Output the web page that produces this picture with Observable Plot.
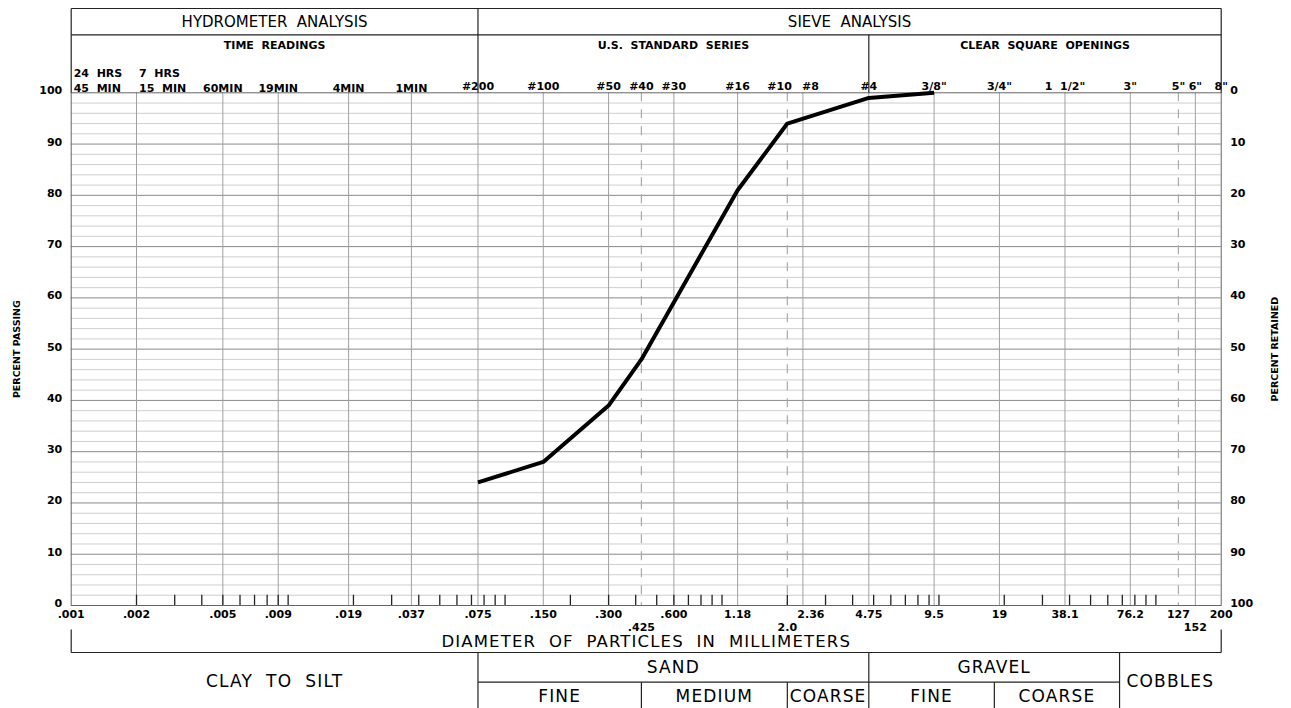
<!DOCTYPE html>
<html><head><meta charset="utf-8">
<script src="https://cdn.jsdelivr.net/npm/d3@7"></script>
<script src="https://cdn.jsdelivr.net/npm/@observablehq/plot@0.6"></script>
<style>
html,body{margin:0;padding:0;background:#fff;}
svg text{white-space:pre;}
g[font-size="17"], g[font-size="16.5"]{letter-spacing:1.15px;}
</style></head><body><div id="chart"></div>
<script>
// ---- Gradation results (sieve size in mm, percent passing) ----
const sieveSizes = [0.075, 0.150, 0.300, 0.425, 1.18, 2.0, 4.75, 9.5];
const percentPassing = [24, 28, 39, 48, 81, 94, 99, 100];

// ---- Grid sizes (mm) ----
const gridSizes = [0.002, 0.005, 0.009, 0.019, 0.037, 0.075, 0.150, 0.300, 0.600, 1.18, 2.36, 4.75, 9.5, 19, 38.1, 76.2, 152];
const dashedSizes = [0.425, 2.0, 127];

// ---- Top labels: U.S. standard sieve numbers / clear square openings ----
const sieveTickSizes = [0.075, 0.150, 0.300, 0.425, 0.600, 1.18, 4.75, 9.5, 19, 38.1, 76.2, 127, 152, 200];
const sieveTickLabels = ["#200", "#100", "#50", "#40", "#30", "#16", "#4", "3/8\"", "3/4\"", "1  1/2\"", "3\"", "5\"", "6\"", "8\""];
const sieveLeftSizes = [2.0];
const sieveLeftLabels = ["#10"];
const sieveRightSizes = [2.36];
const sieveRightLabels = ["#8"];

// ---- Hydrometer time readings ----
const timeUpperSizes = [0.001, 0.002];
const timeUpperLabels = ["24  HRS", "7  HRS"];
const timeLowerSizes = [0.001, 0.002];
const timeLowerLabels = ["45  MIN", "15  MIN"];
const timeSizes = [0.005, 0.009, 0.019, 0.037];
const timeLabels = ["60MIN", "19MIN", "4MIN", "1MIN"];

// ---- Bottom labels: diameter in mm ----
const mmTickSizes = [0.001, 0.002, 0.005, 0.009, 0.019, 0.037, 0.075, 0.150, 0.300, 0.600, 1.18, 4.75, 9.5, 19, 38.1, 76.2, 127, 200];
const mmTickLabels = [".001", ".002", ".005", ".009", ".019", ".037", ".075", ".150", ".300", ".600", "1.18", "4.75", "9.5", "19", "38.1", "76.2", "127", "200"];
const mmShiftedSizes = [2.36];
const mmShiftedLabels = ["2.36"];
const mmLowerSizes = [0.425, 2.0, 152];
const mmLowerLabels = [".425", "2.0", "152"];

// ---- Header / classification sections (mm bounds) ----
const analysisHeaders = [
  {label: "HYDROMETER  ANALYSIS", from: 0.001, to: 0.075},
  {label: "SIEVE  ANALYSIS", from: 0.075, to: 200}
];
const seriesHeaders = [
  {label: "TIME  READINGS", from: 0.001, to: 0.075},
  {label: "U.S.  STANDARD  SERIES", from: 0.075, to: 4.75},
  {label: "CLEAR  SQUARE  OPENINGS", from: 4.75, to: 200}
];
const soilClasses = [
  {label: "CLAY  TO  SILT", from: 0.001, to: 0.075, split: false},
  {label: "SAND", from: 0.075, to: 4.75, split: true},
  {label: "GRAVEL", from: 4.75, to: 68, split: true},
  {label: "COBBLES", from: 68, to: 200, split: false}
];
const soilSubclasses = [
  {label: "FINE", from: 0.075, to: 0.425},
  {label: "MEDIUM", from: 0.425, to: 2.0},
  {label: "COARSE", from: 2.0, to: 4.75},
  {label: "FINE", from: 4.75, to: 18},
  {label: "COARSE", from: 18, to: 68}
];

// ---- Layout ----
const W = 1291, H = 708;
const TOP = 92.3, BOTTOM = 605, LEFT = 70.7, RIGHT = 1220.7;
const py = px => 100 * (BOTTOM - px) / (BOTTOM - TOP); // pixel row -> y value
const gmid = d => Math.sqrt(d.from * d.to);
const FONT = "DejaVu Sans";

const data = sieveSizes.map((s, i) => ({size: s, passing: percentPassing[i]}));
const minorTicks = d3.range(-3, 3).flatMap(k => d3.range(1, 10).map(n => +(n * 10 ** k).toPrecision(3)))
  .filter(v => v > 0.001 && v <= 100);
const hGrid = d3.range(2, 100, 2);

const seg = (x1, x2, y1, y2) => ({x1, x2, y1: py(y1), y2: py(y2)});
const boxLinks = [
  seg(0.001, 200, 8, 8),
  seg(0.001, 200, 34.3, 34.3),
  ...[0.001, ...analysisHeaders.map(d => d.to)].map(x => seg(x, x, 8, TOP)),
  ...seriesHeaders.slice(1).map(d => d.from).filter(x => !analysisHeaders.some(a => a.from === x)).map(x => seg(x, x, 34.3, TOP)),
  seg(0.001, 0.001, 629, 652), seg(200, 200, 629, 652),
  seg(0.001, 200, 652, 652),
  ...soilClasses.slice(1).map(d => seg(d.from, d.from, 652, 720)),
  seg(soilClasses[1].from, soilClasses[2].to, 681.7, 681.7),
  ...soilSubclasses.filter(d => !soilClasses.some(c => c.from === d.from)).map(d => seg(d.from, d.from, 681.7, 720))
];
const lk = {x1: "x1", x2: "x2", y1: "y1", y2: "y2", stroke: "#222", strokeWidth: 1.2};

const small = {fontFamily: FONT, fontSize: 11, fontWeight: "bold"};
const big = {fontFamily: FONT, fontWeight: "normal"};
const labelRow = (sizes, labels, pxRow, extra = {}) =>
  Plot.text(sizes, {x: d => d, y: py(pxRow), text: (d, i) => labels[i], ...small, ...extra});

const plot = Plot.plot({
  width: W, height: H,
  marginLeft: LEFT, marginRight: W - RIGHT, marginTop: TOP, marginBottom: H - BOTTOM,
  x: {type: "log", domain: [0.001, 200], axis: null},
  y: {domain: [0, 100], axis: null},
  style: {fontFamily: FONT, fontSize: "11px", fontWeight: "bold", background: "#fff", color: "#000", overflow: "visible"},
  marks: [
    Plot.ruleY(hGrid, {stroke: d => d % 10 === 0 ? "#8a8a8a" : "#cfcfcf", strokeWidth: 1}),
    Plot.ruleX(gridSizes, {stroke: "#a0a0a0", strokeWidth: 1}),
    Plot.ruleX(dashedSizes, {stroke: "#aaaaaa", strokeWidth: 1.2, strokeDasharray: "9,8"}),
    Plot.frame({stroke: "#666", strokeWidth: 1}),
    Plot.ruleX(minorTicks, {y1: 0, y2: 2, stroke: "#222", strokeWidth: 1.3}),
    Plot.line(data, {x: "size", y: "passing", stroke: "#000", strokeWidth: 4, strokeLinejoin: "round", strokeLinecap: "butt"}),

    // y axes
    Plot.axisY({anchor: "left", ticks: d3.range(0, 101, 10), tickSize: 0, tickPadding: 9, dy: -2, label: null, fontSize: 11, fontWeight: "bold"}),
    Plot.axisY({anchor: "right", ticks: d3.range(0, 101, 10), tickFormat: d => String(100 - d), tickSize: 0, tickPadding: 9, dy: -2, label: null, fontSize: 11, fontWeight: "bold"}),
    Plot.text(["PERCENT PASSING"], {frameAnchor: "left", dx: -54, rotate: -90, textAnchor: "middle", fontSize: 9.5, fontWeight: "bold", fontFamily: FONT}),
    Plot.text(["PERCENT RETAINED"], {frameAnchor: "right", dx: 54, rotate: -90, textAnchor: "middle", fontSize: 9.5, fontWeight: "bold", fontFamily: FONT}),

    // bottom: diameter labels
    labelRow(mmTickSizes, mmTickLabels, 614),
    labelRow(mmShiftedSizes, mmShiftedLabels, 614, {dx: 8}),
    labelRow(mmLowerSizes, mmLowerLabels, 626.5),
    Plot.text(["DIAMETER  OF  PARTICLES  IN  MILLIMETERS"], {x: Math.sqrt(0.001 * 200), y: py(641), fontSize: 16.5, ...big}),

    // top: sieve designations
    labelRow(sieveTickSizes, sieveTickLabels, 86.3),
    labelRow(sieveLeftSizes, sieveLeftLabels, 86.3, {textAnchor: "end", dx: 4.5}),
    labelRow(sieveRightSizes, sieveRightLabels, 86.3, {textAnchor: "start", dx: -1}),
    // hydrometer time readings
    labelRow(timeUpperSizes, timeUpperLabels, 72.8, {textAnchor: "start", dx: 2.5}),
    labelRow(timeLowerSizes, timeLowerLabels, 87.5, {textAnchor: "start", dx: 2.5}),
    labelRow(timeSizes, timeLabels, 87.5),

    // header boxes
    Plot.text(analysisHeaders, {x: gmid, y: py(21.3), text: "label", fontSize: 15, fontFamily: FONT, fontWeight: "normal"}),
    Plot.text(seriesHeaders, {x: gmid, y: py(44.7), text: "label", ...small}),

    // classification boxes
    Plot.text(soilClasses, {x: gmid, y: d => py(d.split ? 667 : 681.5), text: "label", fontSize: 17, ...big}),
    Plot.text(soilSubclasses, {x: gmid, y: py(696.5), text: "label", fontSize: 17, ...big}),

    Plot.link(boxLinks, lk)
  ]
});
document.getElementById("chart").appendChild(plot);
</script></body></html>
